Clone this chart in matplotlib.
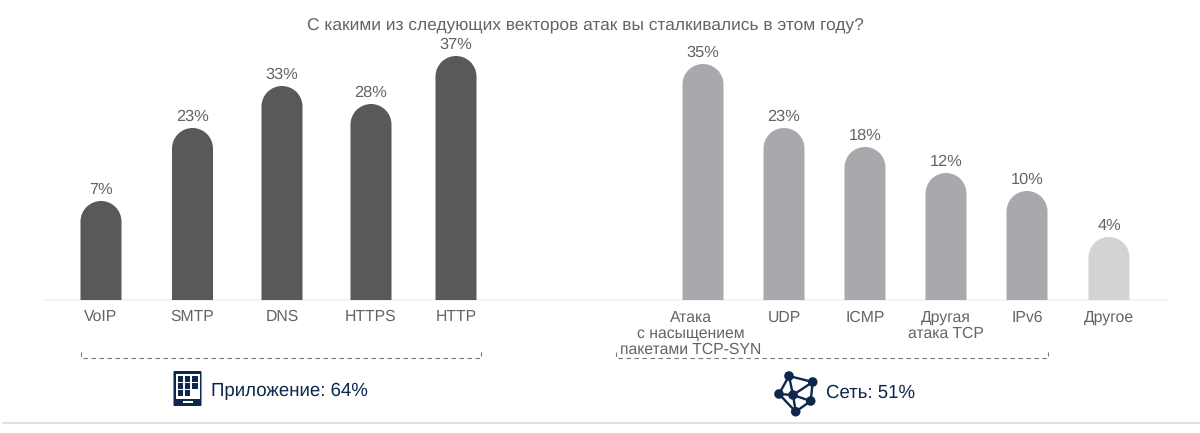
import matplotlib
matplotlib.use("Agg")
import matplotlib.pyplot as plt
from matplotlib.patches import Circle, Rectangle, FancyBboxPatch, PathPatch
from matplotlib.path import Path
from matplotlib.transforms import Affine2D

plt.rcParams["font.family"] = ["Liberation Sans", "DejaVu Sans"]
plt.rcParams["text.hinting"] = "no_hinting"

# ----- datos -----
titulo = "С какими из следующих векторов атак вы сталкивались в этом году?"

app_labels = ["VoIP", "SMTP", "DNS", "HTTPS", "HTTP"]
app_values = [7, 23, 33, 28, 37]
app_heights = [99, 172, 214, 196, 244]   # las barras no son proporcionales al %

net_labels = ["Атака\nс насыщением\nпакетами TCP-SYN", "UDP", "ICMP",
              "Другая\nатака TCP", "IPv6", "Другое"]
net_values = [35, 23, 18, 12, 10, 4]
net_heights = [236, 172, 153, 127, 109, 63]

# ----- layout en píxeles -----
W, H = 1200, 433
BASE = 300
BAR_W = 41
app_x = [101, 192.5, 282, 371, 456]
net_x = [703, 784, 865, 946, 1027, 1109]
net_label_x = [691, 784, 865, 946, 1027, 1109]

GRIS = "#58595b"
MEDIO = "#a7a9ac"
CLARO = "#d1d3d4"
AZUL = "#0d274d"
TEXTO = "#636466"

fig = plt.figure(figsize=(W / 100, H / 100), dpi=100)
ax = fig.add_axes([0, 0, 1, 1])
ax.set_xlim(0, W)
ax.set_ylim(H, 0)
ax.axis("off")


def barra_redonda(x, h, color):
    # una sola forma: semicirculo arriba y rectangulo hasta la base
    r = BAR_W / 2
    arco = Path.arc(0, 180).transformed(Affine2D().scale(r, -r).translate(x, BASE - h + r))
    verts = [(x + r, BASE), *arco.vertices, (x - r, BASE), (x + r, BASE)]
    codes = [Path.MOVETO, Path.LINETO, *arco.codes[1:], Path.LINETO, Path.CLOSEPOLY]
    ax.add_patch(PathPatch(Path(verts, codes), facecolor=color, lw=0, zorder=3))


def barras(xs, alturas, valores, colores):
    for x, h, v, c in zip(xs, alturas, valores, colores):
        barra_redonda(x, h, c)
        ax.text(x, BASE - h - 11.5, f"{v}%", ha="center", va="center",
                fontsize=11.8, color=TEXTO)


def corchete(x0, x1, y=358, alto=6):
    ax.plot([x0, x0, x1, x1], [y - alto, y, y, y - alto], color="#77787b",
            lw=0.8, ls=(0, (4, 3.2)), zorder=2)


# lineas de base y de pie
ax.plot([45, 1168], [BASE, BASE], color="#f1f1f2", lw=1.2, zorder=1)
ax.plot([3, W], [422.5, 422.5], color="#e1e2e3", lw=1.4, zorder=1)

ax.text(585, 26, titulo, ha="center", va="center", fontsize=12.5, color=TEXTO)

barras(app_x, app_heights, app_values, [GRIS] * 5)
barras(net_x, net_heights, net_values, [MEDIO] * 5 + [CLARO])

for x, lab in zip(app_x, app_labels):
    ax.text(x, 317, lab, ha="center", va="center", fontsize=11.3, color=TEXTO)
for x, lab in zip(net_label_x, net_labels):
    ax.text(x, 310, lab, ha="center", va="top", fontsize=11.3, color=TEXTO,
            linespacing=1.12)

corchete(81, 481)
corchete(616, 1048)

# ----- icono tablet -----
ax.add_patch(FancyBboxPatch((173.5, 371), 28, 35, boxstyle="round,pad=0,rounding_size=1",
                            color=AZUL, lw=0, zorder=3))
ax.add_patch(Rectangle((176, 374), 23.5, 24.5, color="white", lw=0, zorder=4))
ax.add_patch(Rectangle((182.5, 401), 10, 2, color="white", lw=0, zorder=4))
for fila, columnas in enumerate([3, 3, 2]):
    for col in range(columnas):
        ax.add_patch(Rectangle((177.5 + col * 7.2, 376 + fila * 7.2), 5.6, 5.6,
                               color=AZUL, lw=0, zorder=5))
ax.text(211, 391, "Приложение: 64%", ha="left", va="center", fontsize=13.4, color=AZUL)

# ----- icono red -----
nodos = [(789, 376), (812.7, 382), (810.7, 401), (795.7, 411.7), (779, 394), (793, 395)]
enlaces = [(0, 1), (1, 2), (2, 3), (3, 4), (4, 0), (5, 0), (5, 1), (5, 2), (5, 3), (5, 4)]
for a, b in enlaces:
    ax.plot([nodos[a][0], nodos[b][0]], [nodos[a][1], nodos[b][1]], color=AZUL,
            lw=1.7, zorder=3)
for n in nodos:
    ax.add_patch(Circle(n, 4.8, color=AZUL, lw=0, zorder=4))
ax.text(826, 393, "Сеть: 51%", ha="left", va="center", fontsize=13.4, color=AZUL)

fig.savefig("out.png", dpi=100, facecolor="white")
